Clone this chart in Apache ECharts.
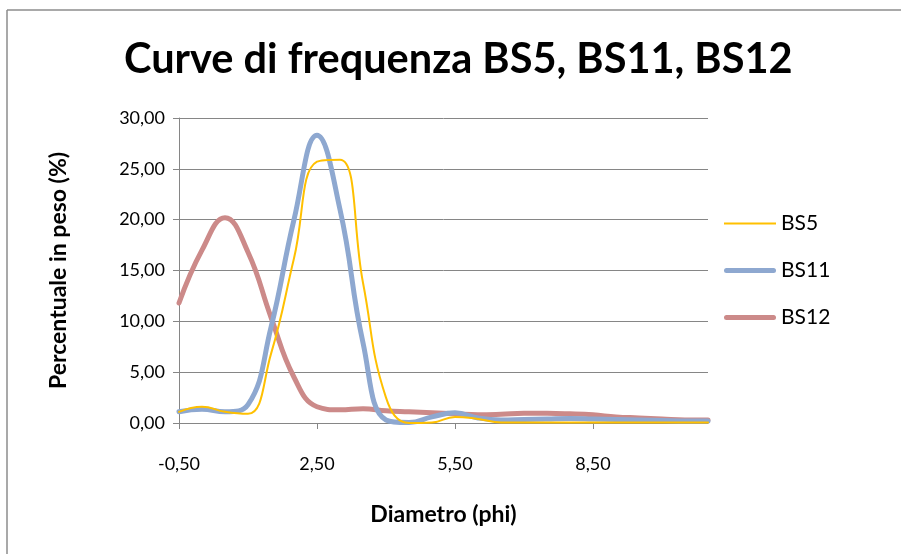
<!DOCTYPE html>
<html><head><meta charset="utf-8">
<script src="https://cdn.jsdelivr.net/npm/echarts@6/dist/echarts.min.js"></script>
<style>html,body{margin:0;padding:0;background:#fff;overflow:hidden}#c{width:901px;height:554px}</style>
</head><body><div id="c"></div>
<script>
const categories = ['-0,50','0,00','0,50','1,00','1,50','2,00','2,50','3,00','3,50','4,00','4,50','5,00','5,50','6,00','6,50','7,00','7,50','8,00','8,50','9,00','9,50','10,00','10,50','11,00'];
const bs5  = [1.1,1.6,1.1,0.9,6.8,16.2,25.7,25.9,13.8,2.5,0.0,0.05,0.6,0.4,0.05,0.05,0.05,0.05,0.05,0.05,0.05,0.05,0.05,0.05];
const bs11 = [1.1,1.35,1.1,1.8,9.4,20.0,28.3,21.0,7.9,0.3,0.05,0.6,1.0,0.5,0.3,0.35,0.4,0.45,0.4,0.35,0.3,0.25,0.2,0.2];
const bs12 = [11.8,17.0,20.2,16.8,10.4,4.5,1.6,1.3,1.4,1.2,1.1,1.0,0.9,0.8,0.85,0.95,0.95,0.9,0.8,0.6,0.5,0.4,0.3,0.3];

const thin = 'path://M0,0 L52,0 L52,2 L0,2 Z';
const thick = 'path://M2.5,0 L49.5,0 A2.5,2.5 0 0 1 49.5,5 L2.5,5 A2.5,2.5 0 0 1 2.5,0 Z';
const chart = echarts.init(document.getElementById('c'));
const font = 'Lato, "Open Sans", sans-serif';
chart.setOption({
  animation:false,
  graphic:[
    {type:'line',shape:{x1:7,y1:10,x2:901,y2:10},style:{stroke:'#8c8c8c',lineWidth:1.5},silent:true},
    {type:'line',shape:{x1:7,y1:10,x2:7,y2:554},style:{stroke:'#8c8c8c',lineWidth:1.5},silent:true}
  ],
  title:{text:'Curve di frequenza BS5, BS11, BS12',left:119,top:34,
    textStyle:{fontFamily:font,fontWeight:'bold',fontSize:41.5,color:'#000'}},
  legend:{orient:'vertical',left:719,top:208,itemGap:26,itemWidth:52,itemHeight:14,itemSymbolKeepAspect:true,
    textStyle:{fontFamily:font,fontSize:21,color:'#000'},
    data:[{name:'BS5',icon:thin},{name:'BS11',icon:thick},{name:'BS12',icon:thick}]},
  grid:{left:179,top:118,width:529,height:305},
  xAxis:{type:'category',data:categories,boundaryGap:false,
    name:'Diametro (phi)',nameLocation:'middle',nameGap:80,
    nameTextStyle:{fontFamily:font,fontWeight:'bold',fontSize:23,color:'#000'},
    axisLine:{lineStyle:{color:'#868686'}},
    axisTick:{interval:5,length:6,lineStyle:{color:'#868686'}},
    axisLabel:{interval:5,margin:32,fontFamily:font,fontSize:18,color:'#000'},
    splitLine:{show:false}},
  yAxis:{type:'value',min:0,max:30,interval:5,
    name:'Percentuale in peso (%)',nameLocation:'middle',nameGap:109,nameRotate:90,
    nameTextStyle:{fontFamily:font,fontWeight:'bold',fontSize:23,color:'#000'},
    axisLine:{show:true,lineStyle:{color:'#868686'}},
    axisTick:{show:true,length:6,lineStyle:{color:'#868686'}},
    axisLabel:{margin:14,fontFamily:font,fontSize:18,color:'#000',
      formatter:v=>v.toFixed(2).replace('.',',')},
    splitLine:{lineStyle:{color:'#868686',width:1}}},
  series:[
    {name:'BS5',type:'line',data:bs5,smooth:0.45,symbol:'none',
      lineStyle:{color:'#FFC000',width:2,cap:'round'},itemStyle:{color:'#FFC000'},z:3},
    {name:'BS11',type:'line',data:bs11,smooth:0.45,symbol:'none',
      lineStyle:{color:'#8EA8D0',width:5,cap:'round'},itemStyle:{color:'#8EA8D0'},z:2},
    {name:'BS12',type:'line',data:bs12,smooth:0.45,symbol:'none',
      lineStyle:{color:'#CC8A89',width:5,cap:'round'},itemStyle:{color:'#CC8A89'},z:1}
  ]
});
</script></body></html>
